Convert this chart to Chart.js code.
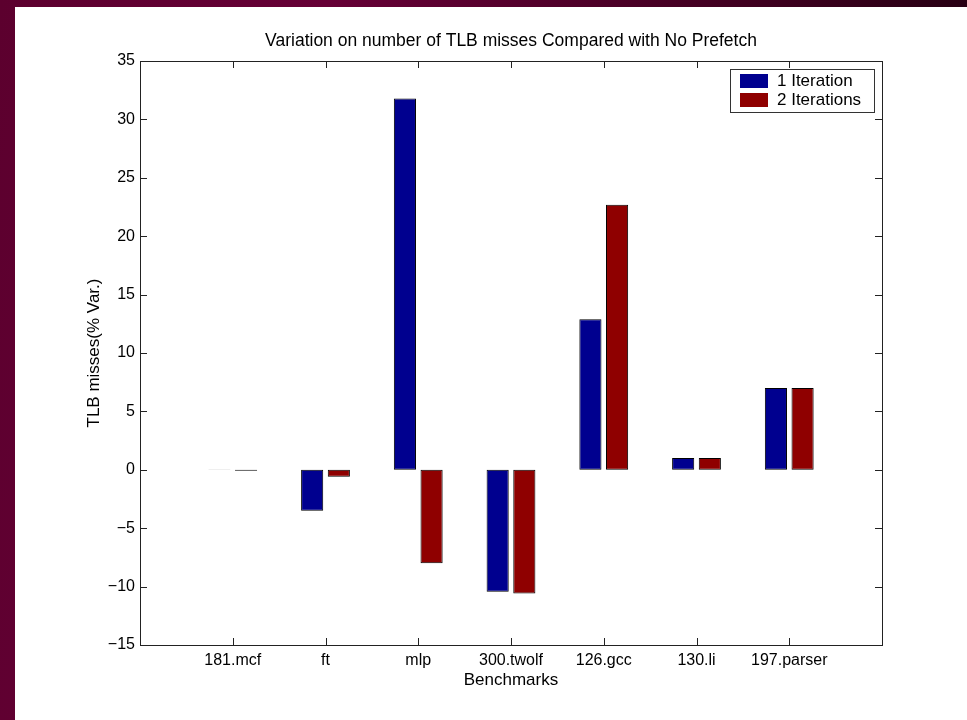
<!DOCTYPE html>
<html>
<head>
<meta charset="utf-8">
<script src="https://cdn.jsdelivr.net/npm/chart.js@4"></script>
<style>
  html, body { margin: 0; padding: 0; }
  body {
    width: 967px; height: 720px; overflow: hidden; position: relative;
    background: linear-gradient(100deg, #5c002e 0%, #660036 30%, #3e001f 70%, #1a000c 100%);
  }
  #panel {
    position: absolute; left: 15px; top: 7px; width: 952px; height: 713px;
    background: #ffffff;
  }
</style>
</head>
<body>
<div id="panel"><canvas id="chart" width="952" height="713"></canvas></div>
<script>
const categories = ["181.mcf", "ft", "mlp", "300.twolf", "126.gcc", "130.li", "197.parser"];
const oneIteration = [0.03, -3.5, 31.8, -10.45, 12.9, 1.0, 7.0];
const twoIterations = [-0.08, -0.6, -8.0, -10.6, 22.7, 1.0, 7.0];
const yTicks = [-15, -10, -5, 0, 5, 10, 15, 20, 25, 30, 35];

const FONT = "'Liberation Sans', Arial, Helvetica, sans-serif";

// pad one empty slot on each side so xlim runs 0..8 like the original
const labels = [""].concat(categories, [""]);
const pad = arr => [null].concat(arr, [null]);

// box, inward ticks and legend drawn on top of the chart area
const frame = {
  id: "frame",
  afterDraw(chart) {
    const ctx = chart.ctx;
    const a = chart.chartArea;
    const x = chart.scales.x;
    const y = chart.scales.y;
    ctx.save();
    ctx.strokeStyle = "#222";
    ctx.lineWidth = 1;
    ctx.strokeRect(a.left + 0.5, a.top + 0.5, a.right - a.left, a.bottom - a.top);

    ctx.beginPath();
    yTicks.forEach(v => {
      const py = Math.round(y.getPixelForValue(v)) + 0.5;
      ctx.moveTo(a.left, py); ctx.lineTo(a.left + 7, py);
      ctx.moveTo(a.right, py); ctx.lineTo(a.right - 7, py);
    });
    categories.forEach((c, i) => {
      const px = Math.round(x.getPixelForValue(i + 1)) + 0.5;
      ctx.moveTo(px, a.bottom); ctx.lineTo(px, a.bottom - 7);
      ctx.moveTo(px, a.top); ctx.lineTo(px, a.top + 7);
    });
    ctx.stroke();

    // legend
    const lx = 715, ly = 62, lw = 144, lh = 43;
    ctx.fillStyle = "#fff";
    ctx.fillRect(lx, ly, lw, lh);
    ctx.strokeStyle = "#333";
    ctx.strokeRect(lx + 0.5, ly + 0.5, lw, lh);
    ctx.font = "17px " + FONT;
    ctx.textBaseline = "middle";
    chart.data.datasets.forEach((ds, i) => {
      const sy = ly + 5 + i * 19;
      ctx.fillStyle = ds.backgroundColor;
      ctx.fillRect(lx + 10, sy, 28, 14);
      ctx.fillStyle = "#000";
      ctx.fillText(ds.label, lx + 47, sy + 7.5);
    });
    ctx.restore();
  }
};

new Chart(document.getElementById("chart"), {
  type: "bar",
  data: {
    labels: labels,
    datasets: [
      {
        label: "1 Iteration",
        data: pad(oneIteration),
        backgroundColor: "#00008f",
        borderColor: "#000",
        borderWidth: 1,
        borderSkipped: false
      },
      {
        label: "2 Iterations",
        data: pad(twoIterations),
        backgroundColor: "#8f0000",
        borderColor: "#000",
        borderWidth: 1,
        borderSkipped: false
      }
    ]
  },
  plugins: [frame],
  options: {
    responsive: false,
    animation: false,
    categoryPercentage: 0.575,
    barPercentage: 0.83,
    layout: { padding: { left: 0, right: 85, top: 0, bottom: 0 } },
    plugins: {
      legend: { display: false },
      tooltip: { enabled: false },
      title: {
        display: true,
        fullSize: false,
        text: "Variation on number of TLB misses Compared with No Prefetch",
        color: "#000",
        font: { family: FONT, size: 17.5, weight: "normal" },
        padding: { top: 24, bottom: 9 }
      }
    },
    scales: {
      x: {
        offset: false,
        grid: { display: false, drawTicks: false },
        border: { display: false },
        ticks: {
          color: "#000",
          font: { family: FONT, size: 16 },
          padding: 6,
          maxRotation: 0,
          autoSkip: false
        },
        title: {
          display: true,
          text: "Benchmarks",
          color: "#000",
          font: { family: FONT, size: 17 },
          padding: { top: 0, bottom: 29 }
        },
        afterFit(scale) { scale.height = 75; }
      },
      y: {
        min: -15,
        max: 35,
        grid: { display: false, drawTicks: false },
        border: { display: false },
        ticks: {
          stepSize: 5,
          color: "#000",
          font: { family: FONT, size: 16 },
          padding: 5,
          callback: v => (v < 0 ? "\u2212" + Math.abs(v) : String(v))
        },
        title: {
          display: true,
          text: "TLB misses(% Var.)",
          color: "#000",
          font: { family: FONT, size: 17 },
          padding: { top: 69, bottom: 0 }
        },
        afterFit(scale) { scale.width = 125; }
      }
    }
  }
});
</script>
</body>
</html>
